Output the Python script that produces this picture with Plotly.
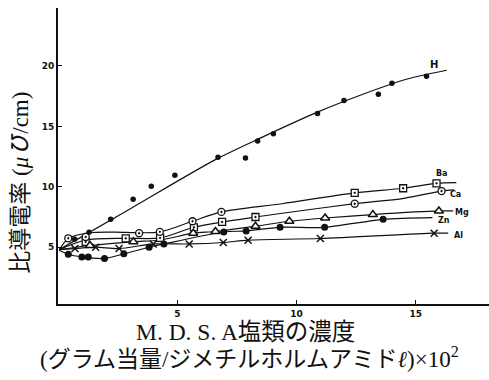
import plotly.graph_objects as go

# ---- measured points (concentration x10^2, conductivity) ----
h_x = [0.70, 1.30, 2.21, 3.15, 3.91, 4.90, 6.71, 7.86, 8.37, 9.03, 10.88, 11.99, 13.43, 14.00, 15.45]
h_y = [5.66, 6.24, 7.31, 8.97, 10.04, 10.95, 12.44, 12.38, 13.79, 14.40, 16.07, 17.15, 17.67, 18.58, 19.16]

ba_x = [1.16, 2.84, 4.28, 5.70, 6.88, 8.28, 12.44, 14.47, 15.87]
ba_y = [5.44, 5.74, 5.77, 6.65, 7.09, 7.50, 9.50, 9.88, 10.29]

ca_x = [0.43, 1.16, 3.40, 4.27, 5.64, 6.85, 12.44, 16.08]
ca_y = [5.74, 5.85, 6.16, 6.27, 7.15, 7.92, 8.60, 9.65]

mg_x = [1.34, 3.16, 5.67, 6.60, 8.28, 9.70, 11.20, 13.20, 15.97]
mg_y = [5.14, 5.45, 6.16, 6.30, 6.74, 7.15, 7.42, 7.70, 8.00]

zn_x = [0.43, 1.00, 1.27, 1.95, 2.76, 3.82, 4.44, 6.95, 7.89, 9.31, 11.18, 13.63]
zn_y = [4.42, 4.20, 4.20, 4.07, 4.45, 5.00, 5.27, 6.26, 6.35, 6.65, 6.65, 7.31]

al_x = [0.71, 1.58, 2.56, 3.99, 5.50, 6.93, 7.97, 11.00, 15.77]
al_y = [4.89, 5.00, 4.89, 5.27, 5.27, 5.39, 5.58, 5.72, 6.16]

# ---- hand-drawn curves through the points ----
h_curve_x = [0.05, 3.0, 6.6, 8.5, 10.9, 12.7, 14.6, 16.3]
h_curve_y = [4.8, 8.15, 12.25, 14.05, 16.2, 17.6, 18.9, 19.65]

ba_curve_x = [0.05, 0.45, 1.3, 2.4, 3.4, 4.3, 5.64, 6.85, 9.4, 12.44, 14.47, 15.87, 16.7]
ba_curve_y = [4.8, 5.74, 6.2, 6.25, 6.2, 6.27, 7.15, 7.92, 8.6, 9.5, 9.88, 10.29, 10.35]

ca_curve_x = [0.05, 1.16, 2.84, 4.28, 5.7, 6.88, 8.28, 10.1, 12.44, 14.5, 16.08, 16.6]
ca_curve_y = [4.8, 5.6, 5.74, 5.77, 6.65, 7.09, 7.5, 8.0, 8.6, 9.05, 9.65, 9.75]

mg_curve_x = [0.05, 1.34, 3.16, 4.3, 5.67, 6.6, 8.28, 9.7, 11.2, 13.2, 15.97, 16.57]
mg_curve_y = [4.8, 5.14, 5.45, 5.6, 6.16, 6.3, 6.74, 7.15, 7.42, 7.7, 8.0, 8.0]

zn_curve_x = [0.05, 0.43, 1.0, 1.95, 2.76, 3.82, 4.44, 6.95, 7.89, 9.31, 11.18, 13.63, 15.7]
zn_curve_y = [4.75, 4.42, 4.2, 4.07, 4.45, 5.0, 5.27, 6.26, 6.35, 6.65, 6.65, 7.31, 7.45]

al_curve_x = [0.05, 0.71, 1.58, 2.56, 3.99, 5.5, 6.93, 7.97, 11.0, 15.77, 16.36]
al_curve_y = [4.8, 4.89, 5.0, 4.89, 5.27, 5.27, 5.39, 5.58, 5.72, 6.16, 6.16]

x_ticks = [5, 10, 15]
y_ticks = [5, 10, 15, 20]

INK = "#111111"
fig = go.Figure()

for cx, cy in [(h_curve_x, h_curve_y), (ba_curve_x, ba_curve_y), (ca_curve_x, ca_curve_y),
               (mg_curve_x, mg_curve_y), (zn_curve_x, zn_curve_y), (al_curve_x, al_curve_y)]:
    fig.add_trace(go.Scatter(x=cx, y=cy, mode="lines",
                             line=dict(color=INK, width=1.2, shape="spline", smoothing=0.8),
                             hoverinfo="skip", showlegend=False))

marker_sets = [
    (h_x, h_y, dict(symbol="circle", size=5.5, color=INK)),
    (ba_x, ba_y, dict(symbol="square-dot", size=7, color="white", line=dict(color=INK, width=1.3))),
    (ca_x, ca_y, dict(symbol="circle-dot", size=7, color="white", line=dict(color=INK, width=1.3))),
    (mg_x, mg_y, dict(symbol="triangle-up", size=8, color="white", line=dict(color=INK, width=1.5))),
    (zn_x, zn_y, dict(symbol="circle", size=7, color=INK)),
    (al_x, al_y, dict(symbol="x-thin-open", size=7, color=INK, line=dict(color=INK, width=1.5))),
]
for mx, my, mk in marker_sets:
    fig.add_trace(go.Scatter(x=mx, y=my, mode="markers", marker=mk, showlegend=False))

series_labels = [("H", 15.76, 20.1, 10), ("Ba", 16.08, 11.1, 8), ("Ca", 16.66, 9.4, 8),
                 ("Mg", 16.95, 7.85, 8), ("Zn", 16.2, 7.2, 8), ("Al", 16.8, 5.98, 8)]
for txt, ax_, ay_, sz in series_labels:
    fig.add_annotation(x=ax_, y=ay_, text=txt, showarrow=False,
                       font=dict(family="DejaVu Sans", size=sz, color=INK, weight="bold"),
                       xanchor="center", yanchor="middle")

title_font = "Liberation Serif, Noto Sans CJK JP, serif"
fig.add_annotation(xref="paper", yref="paper", x=(245 - 58) / 431, y=-(333 - 304.5) / 296.5,
                   text="M. D. S. A塩類の濃度", showarrow=False, xanchor="center", yanchor="middle",
                   font=dict(family=title_font, size=23.5, color=INK))
fig.add_annotation(xref="paper", yref="paper", x=(249 - 58) / 431, y=-(358 - 304.5) / 296.5,
                   text="(グラム当量/ジメチルホルムアミド<i>ℓ</i>)×10<sup>2</sup>", showarrow=False,
                   xanchor="center", yanchor="middle",
                   font=dict(family=title_font, size=23, color=INK))
fig.add_annotation(xref="paper", yref="paper", x=-(58 - 21) / 431, y=(304.5 - 183) / 296.5,
                   text="比導電率 (<i>μ℧</i>/cm)", showarrow=False, textangle=-90,
                   xanchor="center", yanchor="middle",
                   font=dict(family=title_font, size=23, color=INK))

fig.update_layout(
    width=489, height=380,
    margin=dict(l=58, r=0, t=8, b=75.5),
    paper_bgcolor="white", plot_bgcolor="white",
    showlegend=False,
    xaxis=dict(range=[0, 18.07], tickvals=x_ticks, ticktext=[str(v) for v in x_ticks],
               showgrid=False, zeroline=False, showline=True, linecolor=INK, linewidth=2,
               ticks="inside", ticklen=4, tickcolor=INK,
               tickfont=dict(family="DejaVu Sans", size=9, color=INK, weight="bold")),
    yaxis=dict(range=[0.3, 24.8], tickvals=y_ticks, ticktext=[str(v) for v in y_ticks],
               showgrid=False, zeroline=False, showline=True, linecolor=INK, linewidth=2,
               ticks="inside", ticklen=4, tickcolor=INK,
               tickfont=dict(family="DejaVu Sans", size=9, color=INK, weight="bold")),
)

fig.write_html("out.html")
